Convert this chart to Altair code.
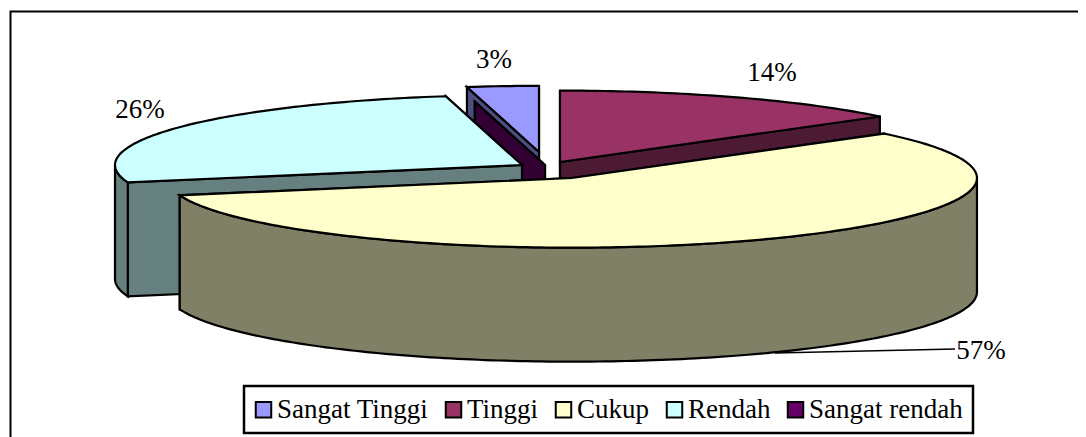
import math
import altair as alt
import pandas as pd

# Data
categories = ["Sangat Tinggi", "Tinggi", "Cukup", "Rendah", "Sangat rendah"]
shares = [3, 14, 57, 26, 0]
labels = ["3%", "14%", "57%", "26%", ""]

# Styles
top_colors = ["#9999FF", "#993366", "#FFFFCC", "#CCFFFF", "#660066"]
side_colors = ["#4D4D80", "#4D1A33", "#808066", "#668080", "#330033"]
FONT = "Liberation Serif"

# Layout (page pixels): exploded centre and radius factor of each slice
centres = [(539, 152, 0.945), (560, 162, 1.02), (572, 178, 0.995), (522, 165, 1.0), (545, 165, 0.92)]
label_pos = [(494, 60), (772, 73), (981, 351), (140, 110)]
RX, RY, DEPTH = 407, 70, 114
W, H = 1070, 429

xs = alt.Scale(domain=[8, 8 + W], range=[0, W], nice=False, zero=False)
ys = alt.Scale(domain=[8 + H, 8], range=[H, 0], nice=False, zero=False)


def rim(cx, cy, k, a, dz=0):
    r = math.radians(a)
    return (cx + RX * k * math.sin(r), cy - RY * k * math.cos(r) + dz)


def arc(cx, cy, k, a0, a1, dz=0):
    n = max(1, int(abs(a1 - a0)))
    return [rim(cx, cy, k, a0 + (a1 - a0) * i / n, dz) for i in range(n + 1)]


def poly(points, fill, sw=2.2):
    df = pd.DataFrame(points, columns=["x", "y"]).assign(i=range(len(points)))
    return alt.Chart(df).mark_line(
        fill=fill, stroke="black", strokeWidth=sw, interpolate="linear-closed", clip=False
    ).encode(
        x=alt.X("x:Q", scale=xs, axis=None),
        y=alt.Y("y:Q", scale=ys, axis=None),
        order="i:Q",
    )


# Angles: clockwise from 12 o'clock; first slice ends at 12 o'clock
starts = {}
a = -shares[0] * 3.6
for i, s in enumerate(shares):
    starts[i] = (a, a + s * 3.6)
    a += s * 3.6
# the zero slice sits where the first slice begins
starts[4] = (starts[0][0], starts[0][0])

layers = []
for i in [0, 4, 1, 3, 2]:
    cx, cy, k = centres[i]
    a0, a1 = starts[i]
    side = side_colors[i]
    # radial side faces
    for ang in (a1, a0):
        p = rim(cx, cy, k, ang)
        layers.append(poly([(cx, cy), p, (p[0], p[1] + DEPTH), (cx, cy + DEPTH)], side))
    # outer wall (only the front half shows)
    lo, hi = max(a0 % 360 if a0 >= 0 else a0 + 360, 90), min(a1 if a1 > 0 else a1 + 360, 270)
    if hi > lo:
        layers.append(poly(arc(cx, cy, k, lo, hi) + arc(cx, cy, k, hi, lo, DEPTH), side))
    # top
    if a1 > a0:
        layers.append(poly([(cx, cy)] + arc(cx, cy, k, a0, a1), top_colors[i]))

# frame and leader line
layers.append(alt.Chart(pd.DataFrame({"x": [10.5, 10.5, 1086], "y": [437, 11.5, 11.5], "i": [0, 1, 2]})).mark_line(
    stroke="black", strokeWidth=2, clip=False
).encode(x=alt.X("x:Q", scale=xs, axis=None), y=alt.Y("y:Q", scale=ys, axis=None), order="i:Q"))
layers.append(alt.Chart(pd.DataFrame({"x": [775, 955], "y": [353, 349], "i": [0, 1]})).mark_line(
    stroke="black", strokeWidth=1.5, clip=False
).encode(x=alt.X("x:Q", scale=xs, axis=None), y=alt.Y("y:Q", scale=ys, axis=None), order="i:Q"))

# data labels
text_df = pd.DataFrame({
    "x": [p[0] for p in label_pos],
    "y": [p[1] for p in label_pos],
    "t": labels[:4],
})
layers.append(alt.Chart(text_df).mark_text(font=FONT, fontSize=27, color="black", align="center", baseline="middle").encode(
    x=alt.X("x:Q", scale=xs, axis=None), y=alt.Y("y:Q", scale=ys, axis=None), text="t:N"))

# legend carrier
leg_df = pd.DataFrame({"c": categories, "x": [300] * 5, "y": [300] * 5})
layers.append(alt.Chart(leg_df).mark_point(filled=True, size=1, opacity=0).encode(
    x=alt.X("x:Q", scale=xs, axis=None), y=alt.Y("y:Q", scale=ys, axis=None),
    color=alt.Color("c:N", scale=alt.Scale(domain=categories, range=top_colors),
        legend=alt.Legend(
            title=None, orient="none", legendX=236, legendY=378, direction="horizontal", columns=5,
            symbolType="square", symbolSize=240, symbolOpacity=1, symbolStrokeColor="black",
            symbolStrokeWidth=2, symbolOffset=-4, labelFont=FONT, labelFontSize=27, labelColor="black",
            labelOffset=0, columnPadding=12, padding=10, strokeColor="black", fillColor="white",
            labelLimit=300,
        )),
))

chart = alt.layer(*layers).properties(
    width=W, height=H, padding=0,
    autosize=alt.AutoSizeParams(type="none"),
    background="white",
).configure_view(stroke=None).configure_legend(strokeWidth=2.5)

chart.save("out.html", embed_options={"renderer": "svg", "actions": False})
